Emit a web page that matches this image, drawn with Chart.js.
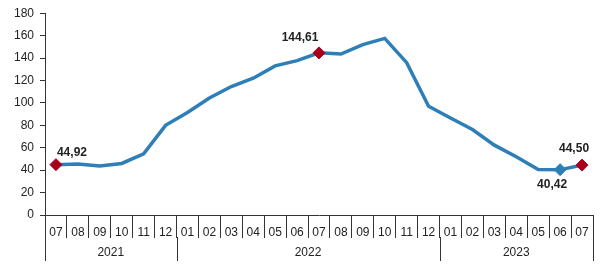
<!DOCTYPE html>
<html>
<head>
<meta charset="utf-8">
<script src="https://cdn.jsdelivr.net/npm/chart.js@4/dist/chart.umd.min.js"></script>
<style>
  body { margin: 0; background: #fff; }
  canvas { display: block; }
</style>
</head>
<body>
<canvas id="chart" width="600" height="269"></canvas>
<script>
const months = ['07', '08', '09', '10', '11', '12',
    '01', '02', '03', '04', '05', '06', '07', '08', '09', '10', '11', '12',
    '01', '02', '03', '04', '05', '06', '07'];
const years = ['2021', '2022', '2023'];
const yearSpans = [6, 12, 7];
const values = [44.92, 45.5, 43.7, 46.0, 54.6, 80.0,
    91.5, 104.3, 114.6, 122.0, 133.0, 137.7, 144.61, 143.6, 152.0, 157.5, 135.9, 97.0,
    86.5, 76.2, 62.3, 52.0, 40.5, 40.42, 44.50];
const redPoints = [0, 12, 24];
const bluePoints = [23];
const yTicks = [0, 20, 40, 60, 80, 100, 120, 140, 160, 180];

const lineColor = '#2E7EB8';
const redColor = '#A8001C';
const axisColor = '#333333';
const textColor = '#222222';
const fontFamily = "'Liberation Sans', Arial, sans-serif";

// where the value labels sit relative to their point
const valueLabels = [
    { index: 0, dx: 16, dy: -12 },
    { index: 12, dx: -19, dy: -15 },
    { index: 24, dx: -8, dy: -16 },
    { index: 23, dx: -8, dy: 15 }
];

const pointRadius = values.map((v, i) => (redPoints.includes(i) || bluePoints.includes(i)) ? 6 : 0);
const pointColor = values.map((v, i) => redPoints.includes(i) ? redColor : lineColor);

function fmt(v) {
    return v.toFixed(2).replace('.', ',');
}

const extrasPlugin = {
    id: 'extras',
    afterDraw(chart) {
        const ctx = chart.ctx;
        const x = chart.scales.x;
        const meta = chart.getDatasetMeta(0);

        // value labels
        ctx.save();
        ctx.font = 'bold 12px ' + fontFamily;
        ctx.fillStyle = textColor;
        ctx.textAlign = 'center';
        ctx.textBaseline = 'middle';
        valueLabels.forEach((l) => {
            const p = meta.data[l.index];
            ctx.fillText(fmt(values[l.index]), p.x + l.dx, p.y + l.dy);
        });
        ctx.restore();

        // year row
        const step = (x.right - x.left) / months.length;
        ctx.save();
        ctx.strokeStyle = axisColor;
        ctx.lineWidth = 1;
        ctx.font = '12px ' + fontFamily;
        ctx.fillStyle = textColor;
        ctx.textAlign = 'center';
        ctx.textBaseline = 'middle';
        let start = 0;
        const edges = [0];
        years.forEach((y, i) => {
            const end = start + yearSpans[i];
            const x0 = x.getPixelForValue(start) - step / 2;
            const x1 = x.getPixelForValue(end - 1) + step / 2;
            ctx.fillText(y, (x0 + x1) / 2, x.top + 38);
            edges.push(end);
            start = end;
        });
        edges.forEach((e) => {
            const px = Math.round(e === months.length ? x.getPixelForValue(e - 1) + step / 2 : x.getPixelForValue(e) - step / 2) + 0.5;
            ctx.beginPath();
            ctx.moveTo(px, x.top + 22);
            ctx.lineTo(px, x.top + 46);
            ctx.stroke();
        });
        ctx.restore();
    }
};

new Chart(document.getElementById('chart'), {
    type: 'line',
    data: {
        labels: months,
        datasets: [{
            data: values,
            borderColor: lineColor,
            borderWidth: 3.5,
            tension: 0,
            fill: false,
            pointStyle: 'rectRot',
            pointRadius: pointRadius,
            pointHoverRadius: pointRadius,
            pointBackgroundColor: pointColor,
            pointBorderColor: pointColor,
            pointBorderWidth: 1
        }]
    },
    options: {
        responsive: false,
        animation: false,
        layout: { padding: { top: 11, right: 6, left: 0, bottom: 0 } },
        plugins: {
            legend: { display: false },
            tooltip: { enabled: false }
        },
        scales: {
            x: {
                type: 'category',
                offset: true,
                grid: {
                    offset: true,
                    drawOnChartArea: false,
                    tickLength: 23,
                    color: axisColor
                },
                border: { color: axisColor },
                ticks: {
                    padding: -13,
                    autoSkip: false,
                    maxRotation: 0,
                    color: textColor,
                    font: { family: fontFamily, size: 12 }
                },
                afterFit(scale) { scale.height = 54; }
            },
            y: {
                min: 0,
                max: 180,
                afterBuildTicks(scale) { scale.ticks = yTicks.map((v) => ({ value: v })); },
                grid: {
                    drawOnChartArea: false,
                    tickLength: 5,
                    color: axisColor
                },
                border: { color: axisColor },
                ticks: {
                    padding: 6,
                    color: textColor,
                    font: { family: fontFamily, size: 12 }
                },
                afterFit(scale) { scale.width = 45; }
            }
        }
    },
    plugins: [extrasPlugin]
});
</script>
</body>
</html>
